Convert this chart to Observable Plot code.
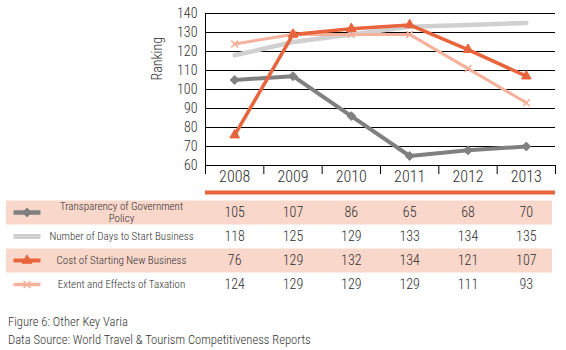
<!DOCTYPE html>
<html><head><meta charset="utf-8">
<script src="https://cdn.jsdelivr.net/npm/d3@7"></script>
<script src="https://cdn.jsdelivr.net/npm/@observablehq/plot@0.6"></script>
<style>
body{margin:0;background:#fff;font-family:"Roboto Condensed","Liberation Sans Narrow","DejaVu Sans",sans-serif;font-stretch:condensed;}
#chart{width:566px;}
svg, svg text{font-stretch:condensed !important;font-weight:300;}
.caption{font-size:12.6px;color:#333;margin-left:8px;line-height:18px;font-stretch:condensed;font-weight:300;}
</style></head><body>
<div id="chart"></div>
<div class="caption" style="margin-top:14px">Figure 6: Other Key Varia</div>
<div class="caption">Data Source: World Travel &amp; Tourism Competitiveness Reports</div>
<script>
const years = ["2008","2009","2010","2011","2012","2013"];
const seriesNames = ["Transparency of Government Policy", "Number of Days to Start Business", "Cost of Starting New Business", "Extent and Effects of Taxation"];
const legendLabels = ["Transparency of Government\nPolicy", "Number of Days to Start Business", "Cost of Starting New Business", "Extent and Effects of Taxation"];
const transparency = [105,107,86,65,68,70];
const daysToStart = [118,125,129,133,134,135];
const costStarting = [76,129,132,134,121,107];
const taxation = [124,129,129,129,111,93];
const yTicks = [60,70,80,90,100,110,120,130,140];

const FONT = '"Roboto Condensed","Liberation Sans Narrow","DejaVu Sans",sans-serif';
const seriesValues = [transparency, daysToStart, costStarting, taxation];
const colors = ["#808080","#d0d0d0","#e8643c","#f4b19c"];
const widths = [4, 4.5, 3.5, 3];
const symbols = ["diamond2", null, "triangle", "times"];
const symbolR = [4, 0, 3.6, 3.2];
const orange = "#e8643c";
const pink = "#f9d7cb";
const textColor = "#2e2e2e";

const rows = seriesNames.flatMap((s, k) => seriesValues[k].map((v, i) => ({series: s, k, year: years[i], pos: i + 0.5, value: v})));
const drawOrder = [1, 3, 0, 2];

const hline = {draw(ctx, size) { ctx.moveTo(-13.5, 0); ctx.lineTo(13.5, 0); }};

const seriesMarks = drawOrder.flatMap(k => {
  const d = rows.filter(r => r.k === k);
  const m = [Plot.line(d, {x: "pos", y: "value", stroke: colors[k], strokeWidth: widths[k]})];
  if (symbols[k]) {
    const stroky = symbols[k] === "times";
    m.push(Plot.dot(d, {x: "pos", y: "value", symbol: symbols[k], r: symbolR[k],
      fill: stroky ? "none" : colors[k], stroke: colors[k], strokeWidth: stroky ? 1.6 : 1}));
  }
  return m;
});

const chart = Plot.plot({
  width: 566, height: 195,
  marginTop: 13, marginBottom: 30, marginLeft: 205, marginRight: 11,
  style: {fontFamily: FONT, color: textColor, background: "white", overflow: "visible"},
  x: {type: "linear", domain: [0, years.length], axis: null},
  y: {domain: [60, 140], axis: null},
  marks: [
    Plot.ruleY(yTicks, {stroke: "#000", strokeWidth: 1}),
    Plot.ruleX([0], {y1: 60, y2: 140, stroke: "#000"}),
    Plot.axisX(d3.range(years.length + 1), {tickSize: 9, tickFormat: () => "", stroke: "#000", label: null}),
    Plot.axisX(years.map((_, i) => i + 0.5), {tickSize: 0, tickPadding: 5, fontSize: 16, label: null, tickFormat: v => years[Math.floor(v)]}),
    Plot.axisY(yTicks, {tickSize: 0, tickPadding: 8, fontSize: 14, label: null}),
    Plot.text(["Ranking"], {frameAnchor: "left", rotate: -90, dx: -48, dy: -9, fontSize: 14, fill: textColor}),
    ...seriesMarks,
    Plot.ruleY([60], {dy: 27, stroke: orange, strokeWidth: 4})
  ]
});

const legendMarks = seriesNames.flatMap((s, k) => {
  const m = [Plot.dot([s], {y: d => d, frameAnchor: "left", dx: 20.5, symbol: hline, fill: "none", stroke: colors[k], strokeWidth: widths[k] + 0.5})];
  if (symbols[k]) {
    const stroky = symbols[k] === "times";
    m.push(Plot.dot([s], {y: d => d, frameAnchor: "left", dx: 20.5, symbol: symbols[k], r: symbolR[k],
      fill: stroky ? "none" : colors[k], stroke: colors[k], strokeWidth: stroky ? 1.6 : 1}));
  }
  return m;
});

const table = Plot.plot({
  width: 566, height: 104,
  marginLeft: 6, marginRight: 14, marginTop: 4, marginBottom: 2,
  style: {fontFamily: FONT, color: textColor, background: "white", overflow: "visible"},
  x: {type: "linear", domain: [0, years.length], range: [205, 555], axis: null},
  y: {type: "band", domain: seriesNames, padding: 0, axis: null},
  marks: [
    Plot.ruleY(seriesNames.filter((_, i) => i % 2 === 0), {stroke: pink, strokeWidth: 24}),
    Plot.text(rows, {x: "pos", y: "series", text: d => String(d.value), fontSize: 14, fill: textColor}),
    ...legendMarks,
    Plot.text(seriesNames, {y: d => d, text: (d, i) => legendLabels[i], frameAnchor: "left", textAnchor: "middle", dx: 115, fontSize: 11, lineHeight: 1.05, fill: textColor})
  ]
});

const host = document.getElementById("chart");
host.append(chart, table);
</script>
</body></html>
